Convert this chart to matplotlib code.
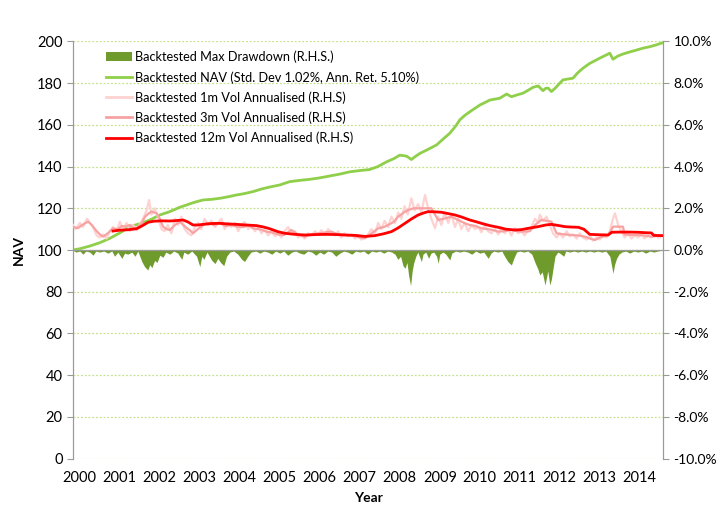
import matplotlib.pyplot as plt
import numpy as np
from matplotlib.patches import Patch
from matplotlib.lines import Line2D

plt.rcParams["font.family"] = ["Lato", "DejaVu Sans"]

# NAV (left axis)
nav_t = [1999.83, 2000.0, 2000.25, 2000.5, 2000.75, 2001.0, 2001.25, 2001.5, 2001.75, 2002.0,
         2002.25, 2002.5, 2002.67, 2002.85, 2003.08, 2003.3, 2003.5, 2003.7, 2003.92, 2004.1,
         2004.33, 2004.55, 2004.75, 2005.0, 2005.25, 2005.5, 2005.75, 2006.0, 2006.25, 2006.5,
         2006.75, 2007.0, 2007.25, 2007.45, 2007.67, 2007.85, 2008.0, 2008.17, 2008.29, 2008.4,
         2008.5, 2008.7, 2008.92, 2009.1, 2009.25, 2009.4, 2009.5, 2009.62, 2009.75, 2010.0,
         2010.25, 2010.5, 2010.67, 2010.79, 2010.95, 2011.08, 2011.2, 2011.33, 2011.46, 2011.58,
         2011.65, 2011.71, 2011.79, 2011.88, 2011.96, 2012.08, 2012.2, 2012.33, 2012.45, 2012.58,
         2012.75, 2012.92, 2013.05, 2013.17, 2013.25, 2013.33, 2013.45, 2013.58, 2013.75, 2013.92,
         2014.08, 2014.25, 2014.4, 2014.57]
nav = [100, 100.6, 101.9, 103.5, 105.6, 108.2, 111.2, 112.6, 114.4, 116.8,
       118.4, 120.5, 121.6, 122.8, 124.0, 124.3, 124.8, 125.5, 126.4, 127.0,
       128.0, 129.3, 130.2, 131.2, 132.8, 133.4, 133.9, 134.6, 135.5, 136.4,
       137.5, 138.1, 138.6, 140.0, 142.3, 143.8, 145.5, 145.0, 143.4, 145.0,
       146.3, 148.2, 150.4, 153.5, 156.0, 159.5, 162.4, 164.5, 166.3, 169.5,
       171.9, 172.8, 174.8, 173.5, 174.5, 175.2, 176.5, 178.0, 178.7, 176.4,
       177.6, 177.6, 176.0, 177.5, 179.2, 181.6, 182.0, 182.4, 185.0, 187.2,
       189.5, 191.2, 192.5, 193.6, 194.4, 191.5, 193.0, 194.0, 195.0, 195.9,
       196.8, 197.5, 198.3, 199.4]

# max drawdown (%), right axis
dd_t = [1999.83, 1999.9, 2000.0, 2000.08, 2000.15, 2000.25, 2000.33, 2000.4, 2000.5, 2000.6,
        2000.7, 2000.8, 2000.87, 2000.95, 2001.05, 2001.12, 2001.2, 2001.3, 2001.38, 2001.45,
        2001.55, 2001.62, 2001.7, 2001.75, 2001.8, 2001.87, 2001.93, 2002.0, 2002.08, 2002.15,
        2002.25, 2002.35, 2002.45, 2002.55, 2002.6, 2002.7, 2002.8, 2002.92, 2003.0, 2003.05,
        2003.1, 2003.18, 2003.3, 2003.38, 2003.45, 2003.52, 2003.6, 2003.67, 2003.75, 2003.85,
        2003.95, 2004.05, 2004.12, 2004.2, 2004.28, 2004.4, 2004.5, 2004.6, 2004.7, 2004.8,
        2004.9, 2005.0, 2005.1, 2005.2, 2005.3, 2005.4, 2005.5, 2005.6, 2005.7, 2005.8,
        2005.9, 2006.0, 2006.1, 2006.2, 2006.3, 2006.4, 2006.5, 2006.6, 2006.7, 2006.8,
        2006.9, 2007.0, 2007.1, 2007.2, 2007.3, 2007.4, 2007.5, 2007.6, 2007.7, 2007.8,
        2007.88, 2007.95, 2008.02, 2008.08, 2008.13, 2008.18, 2008.22, 2008.27, 2008.31, 2008.35,
        2008.4, 2008.45, 2008.5, 2008.54, 2008.58, 2008.65, 2008.72, 2008.78, 2008.85, 2008.92,
        2008.96, 2009.0, 2009.08, 2009.15, 2009.25, 2009.3, 2009.4, 2009.5, 2009.6, 2009.7,
        2009.8, 2009.9, 2010.0, 2010.1, 2010.21, 2010.28, 2010.35, 2010.45, 2010.55, 2010.62,
        2010.7, 2010.79, 2010.85, 2010.92, 2011.0, 2011.1, 2011.2, 2011.3, 2011.38, 2011.45,
        2011.5, 2011.56, 2011.6, 2011.63, 2011.67, 2011.7, 2011.75, 2011.79, 2011.83, 2011.88,
        2011.95, 2012.0, 2012.1, 2012.15, 2012.25, 2012.35, 2012.45, 2012.55, 2012.65, 2012.75,
        2012.85, 2012.95, 2013.05, 2013.15, 2013.25, 2013.3, 2013.33, 2013.37, 2013.42, 2013.48,
        2013.55, 2013.65, 2013.75, 2013.85, 2013.95, 2014.05, 2014.15, 2014.25, 2014.35, 2014.45,
        2014.57]
dd = [0, -0.1, -0.05, -0.2, -0.05, -0.1, -0.25, -0.05, -0.1, -0.05,
      -0.15, -0.05, -0.3, -0.1, -0.4, -0.15, -0.2, -0.1, -0.3, -0.05,
      -0.55, -0.8, -0.96, -0.7, -0.85, -0.5, -0.6, -0.25, -0.35, -0.1,
      -0.2, -0.05, -0.15, -0.45, -0.1, -0.2, -0.05, -0.3, -0.8, -0.3,
      -0.45, -0.1, -0.5, -0.65, -0.4, -0.6, -0.75, -0.3, -0.1, -0.05,
      -0.2, -0.45, -0.55, -0.3, -0.1, -0.05, -0.15, -0.05, -0.1, -0.2,
      -0.05, -0.15, -0.05, -0.25, -0.1, -0.05, -0.15, -0.2, -0.05, -0.1,
      -0.25, -0.1, -0.2, -0.05, -0.1, -0.3, -0.15, -0.05, -0.1, -0.2,
      -0.05, -0.1, -0.05, -0.2, -0.05, -0.1, -0.05, -0.15, -0.05, -0.1,
      -0.2, -0.45, -0.3, -0.75, -0.88, -0.6, -1.2, -1.71, -1.0, -0.6,
      -0.3, -0.1, -0.35, -0.56, -0.2, -0.1, -0.4, -0.15, -0.1, -0.3,
      -0.64, -0.2, -0.1, -0.2, -0.48, -0.15, -0.05, -0.1, -0.05, -0.1,
      -0.2, -0.05, -0.15, -0.1, -0.4, -0.15, -0.05, -0.1, -0.05, -0.3,
      -0.55, -0.72, -0.4, -0.1, -0.05, -0.1, -0.05, -0.2, -0.6, -0.9,
      -1.2, -1.05, -1.4, -1.68, -1.3, -1.0, -1.68, -1.4, -0.9, -0.3,
      -0.1, -0.15, -0.3, -0.05, -0.1, -0.05, -0.1, -0.05, -0.1, -0.05,
      -0.1, -0.05, -0.1, -0.05, -0.3, -0.8, -1.12, -0.7, -0.4, -0.2,
      -0.1, -0.05, -0.15, -0.05, -0.1, -0.05, -0.15, -0.05, -0.1, -0.05,
      0]

# 1m vol annualised (%)
v1_t = [1999.83, 1999.9, 2000.0, 2000.08, 2000.18, 2000.25, 2000.33, 2000.42, 2000.5, 2000.58,
        2000.67, 2000.75, 2000.83, 2000.92, 2001.0, 2001.08, 2001.17, 2001.25, 2001.33, 2001.42,
        2001.5, 2001.58, 2001.67, 2001.73, 2001.79, 2001.87, 2001.95, 2002.04, 2002.12, 2002.2,
        2002.29, 2002.38, 2002.46, 2002.54, 2002.62, 2002.71, 2002.79, 2002.88, 2002.96, 2003.04,
        2003.12, 2003.21, 2003.29, 2003.38, 2003.46, 2003.54, 2003.62, 2003.71, 2003.79, 2003.88,
        2003.96, 2004.04, 2004.12, 2004.21, 2004.29, 2004.38, 2004.46, 2004.54, 2004.62, 2004.71,
        2004.79, 2004.88, 2004.96, 2005.04, 2005.12, 2005.21, 2005.29, 2005.38, 2005.46, 2005.54,
        2005.62, 2005.71, 2005.79, 2005.88, 2005.96, 2006.04, 2006.12, 2006.21, 2006.29, 2006.38,
        2006.46, 2006.54, 2006.62, 2006.71, 2006.79, 2006.88, 2006.96, 2007.04, 2007.12, 2007.21,
        2007.29, 2007.38, 2007.46, 2007.54, 2007.62, 2007.71, 2007.79, 2007.88, 2007.96, 2008.04,
        2008.12, 2008.2, 2008.29, 2008.37, 2008.46, 2008.54, 2008.63, 2008.71, 2008.79, 2008.88,
        2008.96, 2009.04, 2009.12, 2009.21, 2009.29, 2009.38, 2009.46, 2009.54, 2009.62, 2009.71,
        2009.79, 2009.88, 2009.96, 2010.04, 2010.12, 2010.21, 2010.29, 2010.38, 2010.46, 2010.54,
        2010.62, 2010.71, 2010.79, 2010.88, 2010.96, 2011.04, 2011.12, 2011.21, 2011.29, 2011.38,
        2011.46, 2011.5, 2011.58, 2011.67, 2011.75, 2011.83, 2011.92, 2012.0, 2012.08, 2012.17,
        2012.25, 2012.33, 2012.42, 2012.5, 2012.58, 2012.67, 2012.75, 2012.83, 2012.92, 2013.0,
        2013.08, 2013.17, 2013.25, 2013.33, 2013.38, 2013.46, 2013.54, 2013.62, 2013.71, 2013.79,
        2013.88, 2013.96, 2014.04, 2014.12, 2014.21, 2014.29, 2014.38, 2014.46, 2014.57]
v1 = [1.2, 1.0, 1.3, 1.1, 1.5, 1.3, 1.1, 0.7, 0.6, 0.75,
      0.55, 0.9, 1.1, 0.9, 1.36, 1.0, 1.3, 0.9, 1.2, 0.95,
      1.25, 1.5, 1.9, 2.4, 1.7, 2.0, 1.6, 1.0, 0.9, 1.2,
      0.8, 1.5, 1.2, 1.6, 1.0, 0.8, 0.7, 1.1, 1.3, 1.0,
      1.5, 1.2, 1.4, 1.1, 1.3, 1.5, 1.0, 1.3, 1.1, 1.3,
      0.9, 1.2, 1.35, 1.0, 1.2, 0.9, 1.1, 0.8, 1.0, 0.7,
      0.9, 0.65, 0.8, 0.6, 0.9, 1.1, 0.8, 0.9, 0.6, 0.7,
      0.55, 0.8, 0.7, 0.9, 0.75, 0.95, 0.7, 1.0, 0.8, 0.7,
      0.9, 0.6, 0.8, 0.65, 0.75, 0.55, 0.7, 0.5, 0.6, 0.75,
      1.0, 0.8, 1.3, 1.0, 1.4, 1.1, 1.6, 1.3, 1.8, 1.5,
      2.1, 1.7, 2.48, 1.9, 2.2, 1.8, 2.64, 2.0, 1.5, 1.04,
      1.6, 1.2, 1.8, 1.3, 1.7, 1.1, 1.5, 1.0, 1.3, 0.9,
      1.2, 1.0, 1.1, 0.85, 1.2, 0.9, 0.8, 1.0, 0.75, 1.1,
      0.8, 1.0, 0.7, 1.05, 0.8, 0.9, 0.7, 0.95, 1.1, 1.5,
      1.3, 1.7, 1.4, 1.6, 1.2, 0.8, 0.6, 0.8, 0.6, 0.9,
      0.65, 0.75, 0.55, 0.8, 0.6, 0.5, 0.7, 0.45, 0.6, 0.5,
      0.7, 0.6, 0.9, 1.5, 1.76, 1.2, 0.9, 0.6, 0.8, 0.55,
      0.7, 0.6, 0.75, 0.55, 0.7, 0.6, 0.75, 0.6, 0.65]

# 3m vol annualised (%)
v3_t = [1999.83, 1999.95, 2000.1, 2000.21, 2000.3, 2000.4, 2000.5, 2000.58, 2000.7, 2000.83,
        2000.95, 2001.05, 2001.13, 2001.25, 2001.35, 2001.42, 2001.55, 2001.63, 2001.72, 2001.79,
        2001.92, 2002.0, 2002.08, 2002.17, 2002.25, 2002.38, 2002.5, 2002.63, 2002.75, 2002.83,
        2002.95, 2003.08, 2003.2, 2003.35, 2003.5, 2003.65, 2003.8, 2003.92, 2004.1, 2004.2,
        2004.33, 2004.5, 2004.67, 2004.8, 2004.95, 2005.1, 2005.29, 2005.45, 2005.63, 2005.8,
        2006.0, 2006.15, 2006.29, 2006.45, 2006.63, 2006.8, 2007.0, 2007.13, 2007.3, 2007.46,
        2007.6, 2007.71, 2007.85, 2007.96, 2008.1, 2008.21, 2008.35, 2008.54, 2008.7, 2008.79,
        2008.88, 2008.96, 2009.1, 2009.29, 2009.45, 2009.63, 2009.75, 2009.9, 2010.04, 2010.2,
        2010.35, 2010.46, 2010.6, 2010.79, 2010.95, 2011.1, 2011.25, 2011.38, 2011.54, 2011.67,
        2011.79, 2011.92, 2012.1, 2012.29, 2012.45, 2012.63, 2012.75, 2012.88, 2013.0, 2013.21,
        2013.3, 2013.33, 2013.58, 2013.62, 2013.8, 2013.96, 2014.1, 2014.29, 2014.45, 2014.57]
v3 = [1.1, 1.05, 1.25, 1.36, 1.2, 0.95, 0.75, 0.64, 0.8, 1.04,
      1.0, 1.15, 1.12, 1.2, 1.05, 1.04, 1.3, 1.6, 1.75, 1.84,
      1.76, 1.5, 1.12, 1.0, 0.96, 1.2, 1.36, 1.12, 0.95, 0.8,
      1.0, 1.2, 1.3, 1.2, 1.28, 1.15, 1.2, 1.12, 1.1, 1.2,
      1.04, 1.0, 0.88, 0.85, 0.75, 0.72, 0.96, 0.75, 0.64, 0.75,
      0.8, 0.85, 0.88, 0.75, 0.72, 0.7, 0.6, 0.56, 0.8, 1.04,
      1.1, 1.2, 1.35, 1.6, 1.8, 1.92, 2.0, 2.0, 2.0, 2.0,
      1.7, 1.44, 1.5, 1.6, 1.45, 1.28, 1.2, 1.15, 1.04, 1.0,
      0.95, 0.88, 0.9, 0.96, 0.9, 0.88, 0.9, 1.2, 1.44, 1.4,
      1.36, 0.8, 0.75, 0.72, 0.7, 0.64, 0.55, 0.48, 0.6, 0.72,
      1.0, 1.12, 1.12, 0.75, 0.72, 0.72, 0.7, 0.64, 0.68, 0.69]

# 12m vol annualised (%)
v12_t = [2000.83, 2001.0, 2001.2, 2001.42, 2001.55, 2001.71, 2001.85, 2002.05, 2002.25, 2002.4,
         2002.58, 2002.7, 2002.83, 2002.95, 2003.08, 2003.3, 2003.5, 2003.7, 2003.92, 2004.15,
         2004.42, 2004.6, 2004.75, 2004.95, 2005.13, 2005.38, 2005.63, 2005.9, 2006.13, 2006.4,
         2006.63, 2006.9, 2007.13, 2007.38, 2007.6, 2007.79, 2007.95, 2008.13, 2008.3, 2008.46,
         2008.6, 2008.71, 2008.88, 2009.04, 2009.2, 2009.38, 2009.55, 2009.75, 2009.9, 2010.04,
         2010.25, 2010.46, 2010.65, 2010.88, 2011.05, 2011.21, 2011.46, 2011.65, 2011.79, 2011.95,
         2012.13, 2012.3, 2012.46, 2012.6, 2012.75, 2013.0, 2013.21, 2013.3, 2013.5, 2013.75,
         2013.96, 2014.15, 2014.29, 2014.35, 2014.57]
v12 = [0.91, 0.95, 0.97, 1.02, 1.15, 1.33, 1.38, 1.4, 1.39, 1.41,
       1.44, 1.35, 1.2, 1.2, 1.23, 1.27, 1.28, 1.25, 1.23, 1.2,
       1.17, 1.1, 1.02, 0.88, 0.8, 0.75, 0.72, 0.74, 0.75, 0.74,
       0.72, 0.7, 0.65, 0.69, 0.78, 0.88, 1.05, 1.28, 1.5, 1.68,
       1.78, 1.84, 1.83, 1.81, 1.75, 1.68, 1.58, 1.44, 1.36, 1.28,
       1.17, 1.09, 1.0, 0.96, 0.98, 1.04, 1.12, 1.2, 1.23, 1.18,
       1.12, 1.1, 1.09, 1.0, 0.75, 0.73, 0.72, 0.85, 0.86, 0.86,
       0.85, 0.83, 0.82, 0.7, 0.69]

years = list(range(2000, 2015))

GRID = "#c5e08e"
SPINE = "#9a9a9a"

fig = plt.figure(figsize=(7.2, 5.11), dpi=100)
ax = fig.add_axes([0.1014, 0.1027, 0.8194, 0.8161])
ax2 = ax.twinx()

ax.set_xlim(1999.83, 2014.58)
ax.set_ylim(0, 200)
ax2.set_ylim(-10, 10)

ax.set_yticks(range(0, 201, 20))
ax.yaxis.grid(True, color=GRID, linestyle=(0, (1.5, 1.5)), linewidth=0.9)
ax.set_axisbelow(True)

# NAV on the primary axis, the rest on the right-hand axis (drawn on top)
ax.plot(nav_t, nav, color="#8fcf4a", lw=2.0, zorder=3)
ax2.fill_between(dd_t, dd, 0, color="#6f9b2d", lw=0, zorder=1)
ax2.axhline(0, color=SPINE, lw=0.9, zorder=2)
ax2.plot(v1_t, v1, color="#ffd2d2", lw=1.6, zorder=3)
ax2.plot(v3_t, v3, color="#f7a3a3", lw=1.6, zorder=4)
ax2.plot(v12_t, v12, color="#ff0000", lw=2.0, zorder=5)

ax2.set_yticks(range(-10, 11, 2))
ax2.set_yticklabels([f"{v:.1f}%" for v in range(-10, 11, 2)])

ax.set_xticks(years)
ax.set_xticklabels([str(y) for y in years])
ax.tick_params(axis="x", length=0, pad=9, labelsize=10.5)
ax.tick_params(axis="y", length=4, color=SPINE, labelsize=10.5, direction="out")
ax2.tick_params(axis="y", length=4, color=SPINE, labelsize=10, direction="out")

for a in (ax, ax2):
    a.spines["top"].set_visible(False)
    a.spines["bottom"].set_visible(False)
    a.spines["left"].set_color(SPINE)
    a.spines["right"].set_color(SPINE)

ax.set_xlabel("Year", fontweight="bold", fontsize=10, labelpad=5)
ax.set_ylabel("NAV", fontweight="bold", fontsize=10, labelpad=9)

handles = [
    Patch(facecolor="#6f9b2d", edgecolor="none"),
    Line2D([], [], color="#8fcf4a", lw=2),
    Line2D([], [], color="#ffd2d2", lw=2),
    Line2D([], [], color="#f7a3a3", lw=2),
    Line2D([], [], color="#ff0000", lw=2),
]
labels = [
    "Backtested Max Drawdown (R.H.S.)",
    "Backtested NAV (Std. Dev 1.02%, Ann. Ret. 5.10%)",
    "Backtested 1m Vol Annualised (R.H.S)",
    "Backtested 3m Vol Annualised (R.H.S)",
    "Backtested 12m Vol Annualised (R.H.S)",
]
ax2.legend(handles, labels, loc="upper left", bbox_to_anchor=(0.048, 0.99),
           frameon=False, fontsize=9.2, handlelength=2.0, handletextpad=0.25,
           labelspacing=0.6, borderaxespad=0)

fig.savefig("out.png", dpi=100)
